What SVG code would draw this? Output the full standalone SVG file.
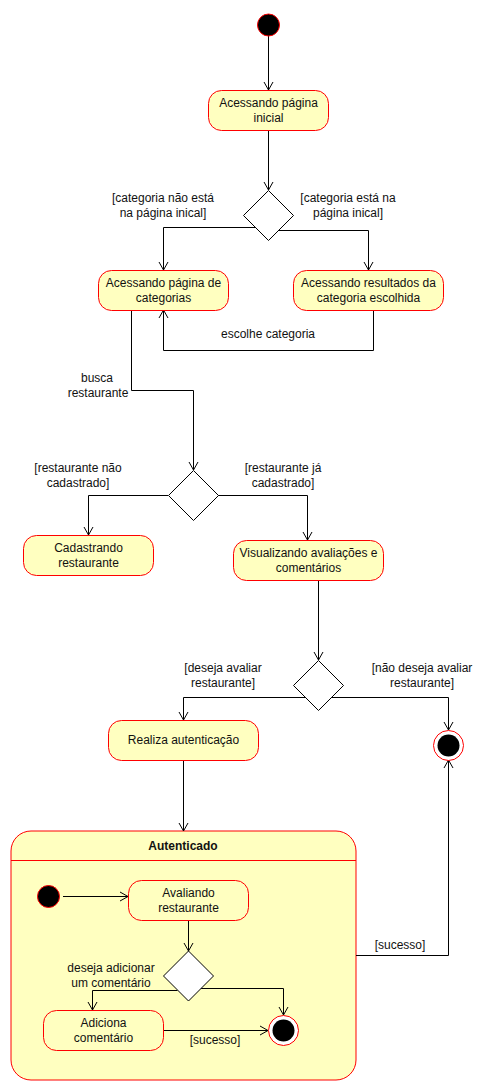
<svg xmlns="http://www.w3.org/2000/svg" width="488" height="1091" viewBox="0 0 488 1091">
<style>
text{font-family:"Liberation Sans",Arial,sans-serif;font-size:12px;fill:#111;text-anchor:middle}
.b{font-weight:bold}
.st{fill:#ffffc0;stroke:#ff0000;stroke-width:1}
.dec{fill:#fff;stroke:#000;stroke-width:1}
.ini{fill:#000;stroke:#ff0000;stroke-width:1}
.e{fill:none;stroke:#000;stroke-width:1;marker-end:url(#arr)}
</style>
<defs>
<marker id="arr" markerUnits="userSpaceOnUse" markerWidth="12" markerHeight="12" viewBox="0 0 12 12" refX="10" refY="6" orient="auto">
<path d="M2,1.5 L10,6 L2,10.5" fill="none" stroke="#000" stroke-width="1"/>
</marker>
</defs>
<rect width="488" height="1091" fill="#fff"/>

<g id="container-autenticado">
<rect class="st" x="11" y="831" width="345" height="249" rx="20" ry="20"/>
<line x1="11" y1="860.5" x2="356" y2="860.5" stroke="#ff0000"/>
<text class="b" x="183" y="850">Autenticado</text>
</g>

<g id="connectors">
<path class="e" d="M268.5,36 V90"/>
<path class="e" d="M268.5,130 V190"/>
<path class="e" d="M255.5,227.5 H163.5 V270"/>
<path class="e" d="M279,230.5 H368.5 V270"/>
<path class="e" d="M373.5,310 V350.5 H163.5 V310"/>
<path class="e" d="M131.5,310 V390.5 H193.5 V470"/>
<path class="e" d="M168,495.5 H88.5 V535"/>
<path class="e" d="M218,495.5 H307.5 V540"/>
<path class="e" d="M318.5,580 V660"/>
<path class="e" d="M305.5,697.5 H183.5 V720"/>
<path class="e" d="M331,697.5 H448.5 V730"/>
<path class="e" d="M183.5,760 V831"/>
<path class="e" d="M356,955.5 H448.5 V760"/>
<path class="e" d="M63,896.5 H128"/>
<path class="e" d="M188.5,921 V951"/>
<path class="e" d="M177.5,990.5 H92.5 V1010"/>
<path class="e" d="M200,988.5 H283.5 V1015"/>
<path class="e" d="M163,1030.5 H268"/>
<text x="163" y="202">[categoria não está</text>
<text x="163" y="216.5">na página inical]</text>
<text x="348" y="202">[categoria está na</text>
<text x="348" y="216.5">página inical]</text>
<text x="268" y="338">escolhe categoria</text>
<text x="97" y="381.5">busca</text>
<text x="98" y="397">restaurante</text>
<text x="78" y="472">[restaurante não</text>
<text x="78" y="487">cadastrado]</text>
<text x="283" y="472">[restaurante já</text>
<text x="283" y="487">cadastrado]</text>
<text x="223" y="672">[deseja avaliar</text>
<text x="223" y="687">restaurante]</text>
<text x="422" y="672">[não deseja avaliar</text>
<text x="422" y="687">restaurante]</text>
<text x="400" y="948.5">[sucesso]</text>
<text x="111" y="972">deseja adicionar</text>
<text x="111" y="986.5">um comentário</text>
<text x="215" y="1043.5">[sucesso]</text>
</g>

<g id="start"><circle class="ini" cx="268.5" cy="25" r="11"/></g>

<g id="acessando-inicial">
<rect class="st" x="208.5" y="90.5" width="120" height="40" rx="13"/>
<text x="268.5" y="107">Acessando página</text>
<text x="268.5" y="122">inicial</text>
</g>

<g id="decisao-categoria"><path class="dec" d="M268.5,190.5 L293.5,215.5 L268.5,240.5 L243.5,215.5 Z"/></g>

<g id="acessando-categorias">
<rect class="st" x="98.5" y="270.5" width="130" height="40" rx="13"/>
<text x="163.5" y="287">Acessando página de</text>
<text x="163.5" y="302">categorias</text>
</g>

<g id="acessando-resultados">
<rect class="st" x="293.5" y="270.5" width="150" height="40" rx="13"/>
<text x="368.5" y="287">Acessando resultados da</text>
<text x="368.5" y="302">categoria escolhida</text>
</g>

<g id="decisao-restaurante"><path class="dec" d="M193.5,470.5 L218.5,495.5 L193.5,520.5 L168.5,495.5 Z"/></g>

<g id="cadastrando">
<rect class="st" x="23.5" y="535.5" width="130" height="40" rx="13"/>
<text x="88.5" y="552">Cadastrando</text>
<text x="88.5" y="567">restaurante</text>
</g>

<g id="visualizando">
<rect class="st" x="233.5" y="540.5" width="150" height="40" rx="13"/>
<text x="308.5" y="557">Visualizando avaliações e</text>
<text x="308.5" y="572">comentários</text>
</g>

<g id="decisao-avaliar"><path class="dec" d="M318.5,660.5 L343.5,685.5 L318.5,710.5 L293.5,685.5 Z"/></g>

<g id="realiza-autenticacao">
<rect class="st" x="108.5" y="720.5" width="150" height="40" rx="13"/>
<text x="183.5" y="744">Realiza autenticação</text>
</g>

<g id="fim">
<circle cx="448.5" cy="745.5" r="15" fill="#fff" stroke="#ff0000"/>
<circle cx="448.5" cy="745.5" r="11" fill="#000"/>
</g>

<g id="start-interno"><circle class="ini" cx="48.5" cy="896.5" r="11"/></g>

<g id="avaliando">
<rect class="st" x="128.5" y="880.5" width="120" height="40" rx="13"/>
<text x="188.5" y="897">Avaliando</text>
<text x="188.5" y="912">restaurante</text>
</g>

<g id="decisao-comentario"><path class="dec" d="M188.5,951 L213.5,976 L188.5,1001 L163.5,976 Z"/></g>

<g id="adiciona-comentario">
<rect class="st" x="43.5" y="1010.5" width="120" height="40" rx="13"/>
<text x="103.5" y="1027">Adiciona</text>
<text x="103.5" y="1042">comentário</text>
</g>

<g id="fim-interno">
<circle cx="283.5" cy="1030.5" r="15" fill="#fff" stroke="#ff0000"/>
<circle cx="283.5" cy="1030.5" r="11" fill="#000"/>
</g>
</svg>
